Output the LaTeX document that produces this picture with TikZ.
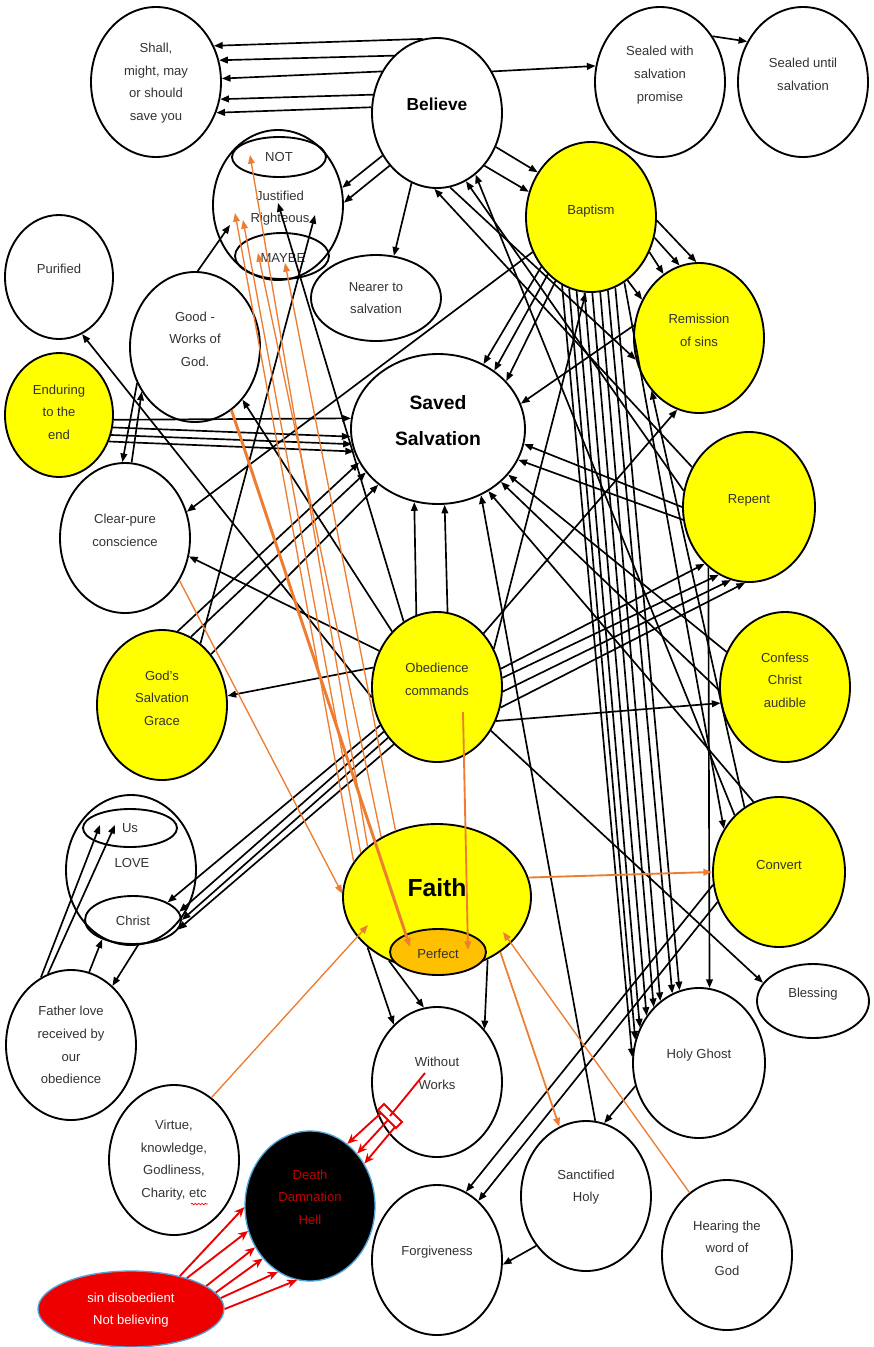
\documentclass[tikz,border=0pt]{standalone}
\usepackage{fontspec}
\setmainfont{Liberation Sans}
\usetikzlibrary{shapes.geometric,arrows.meta,decorations.pathmorphing}
\definecolor{yel}{HTML}{FFFF00}
\definecolor{org}{HTML}{ED7D31}
\definecolor{perfc}{HTML}{FFC000}
\definecolor{dred}{HTML}{C00000}
\definecolor{sblue}{HTML}{4EA5D9}
\definecolor{redf}{HTML}{EE0000}
\begin{document}
\begin{tikzpicture}[x=0.75pt,y=-0.75pt,
  ell/.style 2 args={ellipse, draw=black, line width=1.4pt, fill=white,
     minimum width=#1*0.75pt, minimum height=#2*0.75pt, inner sep=0pt},
  tx/.style={align=center, font=\fontsize{9.8}{17}\selectfont, text=black!80, inner sep=0pt},
  ar/.style={-{Triangle[length=6.5pt,width=5pt]}, line width=1.25pt, black},
  orr/.style={-{Triangle[length=6.5pt,width=5pt]}, line width=1pt, org},
  rd/.style={line width=1.4pt, redf},
  rdar/.style={-{Stealth[length=7.5pt,width=6.5pt]}, line width=1.4pt, redf}]
\fill[white] (0,0) rectangle (874,1347);
\useasboundingbox (0,0) rectangle (874,1347);

% ---------------- nodes ----------------
\node[ell={130}{150}] (shall) at (156,82) {};
\node[ell={130}{150}] (bel) at (437,113) {};
\node[ell={130}{150}] (swp) at (660,82) {};
\node[ell={130}{150}] (sus) at (803,82) {};
\node[ell={130}{150}] (just) at (278,205) {};
\node[ell={94}{40}, fill=none] (notE) at (279,157) {};
\node[ell={94}{46}, fill=none] (maybe) at (282,256) {};
\node[ell={130}{86}] (near) at (376,298) {};
\node[ell={108}{124}] (pur) at (59,277) {};
\node[ell={130}{150}] (good) at (195,347) {};
\node[ell={108}{124}, fill=yel] (endu) at (59,415) {};
\node[ell={174}{150}] (saved) at (438,429) {};
\node[ell={130}{150}, fill=yel] (bap) at (591,217) {};
\node[ell={130}{150}, fill=yel] (rem) at (699,338) {};
\node[ell={132}{150}, fill=yel] (rep) at (749,507) {};
\node[ell={130}{150}] (clear) at (125,538) {};
\node[ell={130}{150}, fill=yel] (obed) at (437,687) {};
\node[ell={130}{150}, fill=yel] (conf) at (785,687) {};
\node[ell={130}{150}, fill=yel] (grace) at (162,705) {};
\node[ell={130}{150}] (love) at (131,870) {};
\node[ell={94}{38}, fill=none] (us) at (130,828) {};
\node[ell={96}{48}, fill=none] (christ) at (133,920) {};
\node[ell={188}{146}, fill=yel] (faith) at (437,897) {};
\node[ell={96}{46}, fill=perfc] (perf) at (438,952) {};
\node[ell={132}{150}, fill=yel] (conv) at (779,872) {};
\node[ell={130}{150}] (father) at (71,1045) {};
\node[ell={112}{74}] (bless) at (813,1001) {};
\node[ell={132}{150}] (hg) at (699,1063) {};
\node[ell={130}{150}] (ww) at (437,1082) {};
\node[ell={130}{150}] (virt) at (174,1160) {};
\node[ell={130}{150}, fill=black, draw=sblue, line width=1pt] (death) at (310,1206) {};
\node[ell={130}{150}] (sanct) at (586,1196) {};
\node[ell={130}{150}] (forg) at (437,1260) {};
\node[ell={130}{150}] (hear) at (727,1255) {};
\node[ell={186}{76}, fill=redf, draw=sblue, line width=1pt] (sin) at (131,1309) {};

% ---------------- texts ----------------
\node[tx] (Tshall) at (156,83) {Shall,\\might, may\\or should\\save you};
\node[tx, font=\fontsize{13}{15}\selectfont\bfseries, text=black] (Tbel) at (437,104) {Believe};
\node[tx] (Tswp) at (660,75) {Sealed with\\salvation\\promise};
\node[tx] (Tsus) at (803,74) {Sealed until\\salvation};
\node[tx] (Tnot) at (279,157) {NOT};
\node[tx] (Tjust) at (280,208) {Justified\\Righteous};
\node[tx] (Tmaybe) at (283,258) {MAYBE};
\node[tx] (Tnear) at (376,298) {Nearer to\\salvation};
\node[tx] (Tpur) at (59,269) {Purified};
\node[tx] (Tgood) at (195,339) {Good -\\Works of\\God.};
\node[tx] (Tend) at (59,412) {Enduring\\to the\\end};
\node[tx, font=\fontsize{14.5}{27}\selectfont\bfseries, text=black] (Tsaved) at (438,421) {Saved\\Salvation};
\node[tx] (Tbap) at (591,211) {Baptism};
\node[tx] (Trem) at (699,330) {Remission\\of sins};
\node[tx] (Trep) at (749,500) {Repent};
\node[tx] (Tclear) at (125,530) {Clear-pure\\conscience};
\node[tx] (Tobed) at (437,679) {Obedience\\commands};
\node[tx] (Tconf) at (785,680) {Confess\\Christ\\audible};
\node[tx] (Tgrace) at (162,698) {God’s\\Salvation\\Grace};
\node[tx] (Tus) at (130,828) {Us};
\node[tx] (Tlove) at (132,863) {LOVE};
\node[tx] (Tchrist) at (133,921) {Christ};
\node[tx, font=\fontsize{18.5}{20}\selectfont\bfseries, text=black] (Tfaith) at (437,888) {Faith};
\node[tx] (Tperf) at (438,954) {Perfect};
\node[tx] (Tconv) at (779,865) {Convert};
\node[tx] (Tfather) at (71,1045) {Father love\\received by\\our\\obedience};
\node[tx] (Tbless) at (813,994) {Blessing};
\node[tx] (Thg) at (699,1055) {Holy Ghost};
\node[tx] (Tww) at (437,1073) {Without\\Works};
\node[tx] (Tvirt) at (174,1160) {Virtue,\\knowledge,\\Godliness,\\Charity, etc};
\node[tx, text=dred] (Tdeath) at (310,1197) {Death\\Damnation\\Hell};
\node[tx] (Tsanct) at (586,1187) {Sanctified\\Holy};
\node[tx] (Tforg) at (437,1252) {Forgiveness};
\node[tx] (Thear) at (727,1248) {Hearing the\\word of\\God};
\node[tx, text=white] (Tsin) at (131,1310) {sin disobedient\\Not believing};
\draw[red, line width=0.5pt, decorate, decoration={snake, amplitude=0.6pt, segment length=2.5pt}] (191,1204) -- (208,1204);

% ---------------- free-end coordinates ----------------
\coordinate (jC) at (278,203);
\coordinate (jD) at (315,215);
\coordinate (jE) at (230,225);
\coordinate (jF) at (235,213);
\coordinate (jG) at (243,220);
\coordinate (jH) at (250,155);
\coordinate (jI) at (258,253);
\coordinate (jJ) at (285,263);
\coordinate (pA) at (410,947);
\coordinate (pB) at (468,950);
\coordinate (obA) at (463,712);
\coordinate (fB) at (368,925);
\coordinate (fC) at (503,932);
\coordinate (u1) at (100,825);
\coordinate (u2) at (115,825);
\coordinate (wA) at (425,1073);
\coordinate (rqc) at (390,1116);
\coordinate (rq1) at (378,1110);
\coordinate (rq2) at (384,1104);
\coordinate (rq3) at (402,1122);
\coordinate (rq4) at (396,1128);
\coordinate (ra1) at (381,1113);
\coordinate (ra2) at (388,1120);
\coordinate (ra3) at (395,1127);

% ---------------- black connectors ----------------
\draw[ar] (bel.101) -- (shall.32);
\draw[ar] (bel.127) -- (shall.19);
\draw[ar] (bel.143) -- (shall.3);
\draw[ar] (bel.164) -- (shall.-15);
\draw[ar] (bel.175) -- (shall.-27);
\draw[ar] (bel.37) -- (swp.166);
\draw[ar] (swp.41) -- (sus.144);
\draw[ar] (bel.218) -- (just.15);
\draw[ar] (bel.228) -- (just.2);
\draw[ar] (bel.250) -- (near.67);
\draw[ar] (bel.-30) -- (bap.140);
\draw[ar] (bel.-48) -- (bap.158);
\draw[ar] (bel.280) -- (rem.199);
\draw[ar] (bap.-3) -- (rem.92);
\draw[ar] (bap.-18) -- (rem.105);
\draw[ar] (bap.-31) -- (rem.119);
\draw[ar] (bap.-60) -- (rem.146);
\draw[ar] (bap.225) -- (saved.55);
\draw[ar] (bap.233) -- (saved.46);
\draw[ar] (bap.241) -- (saved.35);
\draw[ar] (rem.169) -- (saved.17);
\draw[ar] (bap.211) -- (clear.23);
\draw[ar] (rep.145) -- (bel.268);
\draw[ar] (rep.166) -- (bel.293);
\draw[ar] (conv.128) -- (bel.302);
\draw[ar] (conv.110) -- (saved.309);
\draw[ar] (conv.118) -- (rem.228);
\draw[ar] (conf.149) -- (saved.327);
\draw[ar] (conf.183) -- (saved.320);
\draw[ar] (rep.180) -- (saved.350);
\draw[ar] (rep.191) -- (saved.339);
\draw[ar] (bap.297) -- (conv.142);
\draw[ar] (bap.247) -- (hg.175);
\draw[ar] (bap.253) -- (hg.160);
\draw[ar] (bap.259) -- (hg.149);
\draw[ar] (bap.265) -- (hg.138);
\draw[ar] (bap.271) -- (hg.129);
\draw[ar] (bap.277) -- (hg.122);
\draw[ar] (bap.283) -- (hg.111);
\draw[ar] (bap.289) -- (hg.105);
\draw[ar] (rep.236) -- (hg.82);
\draw[ar] (obed.106) -- (saved.252);
\draw[ar] (obed.82) -- (saved.275);
\draw[ar] (obed.148) -- (clear.-16);
\draw[ar] (obed.163) -- (grace.8);
\draw[ar] (obed.189) -- (pur.292);
\draw[ar] (obed.129) -- (good.312);
\draw[ar] (obed.117) -- (jC);
\draw[ar] (grace.58) -- (jD);
\draw[ar] (good.88) -- (jE);
\draw[ar] (grace.78) -- (saved.203);
\draw[ar] (grace.67) -- (saved.211);
\draw[ar] (grace.46) -- (saved.223);
\draw[ar] (obed.-30) -- (conf.194);
\draw[ar] (obed.16) -- (rep.232);
\draw[ar] (obed.8) -- (rep.246);
\draw[ar] (obed.-4) -- (rep.256);
\draw[ar] (obed.-18) -- (rep.267);
\draw[ar] (obed.214) -- (christ.27);
\draw[ar] (obed.220) -- (christ.10);
\draw[ar] (obed.226) -- (christ.0);
\draw[ar] (obed.233) -- (christ.-12);
\draw[ar] (obed.-39) -- (bless.160);
\draw[ar] (obed.49) -- (rem.253);
\draw[ar] (obed.34) -- (bap.266);
\draw[ar] (endu.-5) -- (saved.173);
\draw[ar] (endu.-13) -- (saved.185);
\draw[ar] (endu.-21) -- (saved.190);
\draw[ar] (endu.-28) -- (saved.195);
\draw[ar] (good.212) -- (clear.92);
\draw[ar] (clear.85) -- (good.220);
\draw[ar] (faith.216) -- (ww.127);
\draw[ar] (faith.233) -- (ww.100);
\draw[ar] (faith.-51) -- (ww.48);
\draw[ar] (father.76) -- (christ.212);
\draw[ar] (christ.282) -- (father.55);
\draw[ar] (father.114) -- (u1);
\draw[ar] (father.108) -- (u2);
\draw[ar] (hg.200) -- (sanct.76);
\draw[ar] (sanct.225) -- (forg.-4);
\draw[ar] (conv.191) -- (forg.67);
\draw[ar] (conv.206) -- (forg.55);
\draw[ar] (sanct.83) -- (saved.303);

% ---------------- orange connectors ----------------
\draw[orr] (clear.-38) -- (faith.178);
\draw[orr, line width=2.2pt] (good.-60) -- (pA);
\draw[orr] (faith.157) -- (jF);
\draw[orr] (faith.150) -- (jG);
\draw[orr] (faith.144) -- (jH);
\draw[orr] (faith.133) -- (jI);
\draw[orr] (faith.122) -- (jJ);
\draw[orr, line width=1.4pt] (faith.12) -- (conv.180);
\draw[orr, line width=1.4pt] (obA) -- (pB);
\draw[orr] (virt.59) -- (fB);
\draw[orr, line width=1.3pt] (faith.-41) -- (sanct.111);
\draw[orr] (hear.121) -- (fC);

% ---------------- red connectors ----------------
\draw[rdar] (sin.34) -- (death.181);
\draw[rdar] (sin.29) -- (death.202);
\draw[rdar] (sin.17) -- (death.217);
\draw[rdar] (sin.11) -- (death.228);
\draw[rdar] (sin.7) -- (death.244);
\draw[rdar] (sin.0) -- (death.260);
\draw[rd] (wA) -- (rqc);
\draw[rd] (rq1) -- (rq2) -- (rq3) -- (rq4) -- cycle;
\draw[rdar] (ra1) -- (death.59);
\draw[rdar] (ra2) -- (death.48);
\draw[rdar] (ra3) -- (death.38);
\end{tikzpicture}
\end{document}
